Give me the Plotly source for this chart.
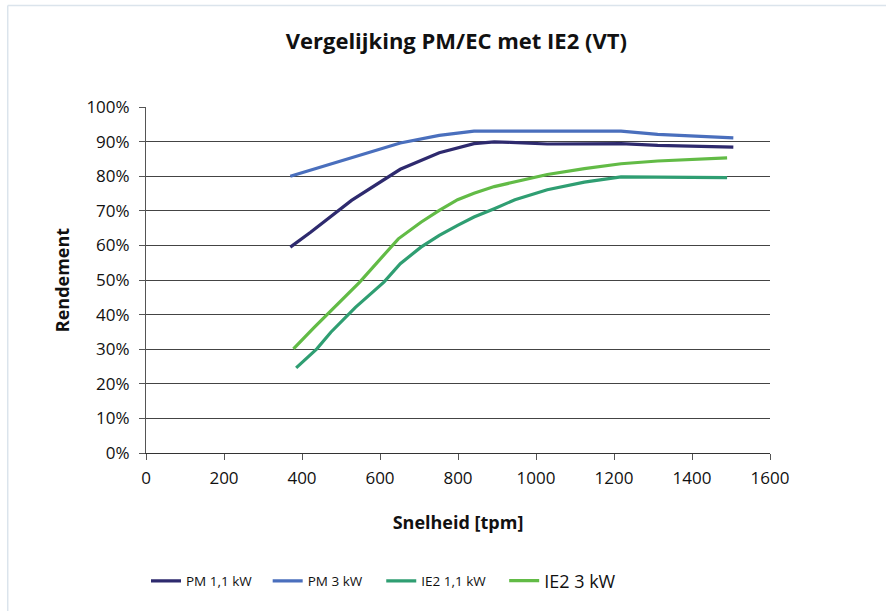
import plotly.graph_objects as go

# Rendement (%) versus snelheid (tpm) per motor
pm11_x = [370, 422, 527, 652, 752, 841, 893, 935, 1029, 1124, 1218, 1312, 1506]
pm11_y = [59.5, 63.8, 73.0, 82.0, 86.8, 89.4, 89.9, 89.8, 89.3, 89.4, 89.4, 88.9, 88.4]

pm3_x = [370, 652, 752, 841, 1124, 1218, 1312, 1506]
pm3_y = [80.0, 89.6, 91.8, 93.0, 93.0, 93.0, 92.1, 91.1]

ie2_11_x = [385, 438, 474, 537, 610, 652, 705, 752, 799, 841, 893, 946, 1029, 1124, 1218, 1490]
ie2_11_y = [24.6, 30.1, 34.9, 42.1, 49.4, 54.7, 59.5, 62.9, 65.8, 68.2, 70.6, 73.2, 76.1, 78.3, 79.8, 79.6]

ie2_3_x = [378, 432, 548, 647, 705, 752, 799, 841, 893, 988, 1029, 1124, 1218, 1312, 1490]
ie2_3_y = [30.1, 36.4, 49.4, 61.9, 66.7, 70.1, 73.2, 75.1, 77.0, 79.6, 80.5, 82.2, 83.6, 84.4, 85.3]

y_ticks = [0, 10, 20, 30, 40, 50, 60, 70, 80, 90, 100]
y_tick_labels = [f"{v}%" for v in y_ticks]
x_ticks = [0, 200, 400, 600, 800, 1000, 1200, 1400, 1600]

# name, x, y, colour, legend id, legend left (paper fraction), label size
series = [
    ("PM 1,1 kW", pm11_x, pm11_y, "#2e2a6e", "legend", 0.0, 13.5),
    ("PM 3 kW", pm3_x, pm3_y, "#4a6fbd", "legend2", 0.195, 13.5),
    ("IE2 1,1 kW", ie2_11_x, ie2_11_y, "#2f9e72", "legend3", 0.377, 13.5),
    ("IE2 3 kW", ie2_3_x, ie2_3_y, "#62bb46", "legend4", 0.574, 18),
]

font_main = "Open Sans, DejaVu Sans, sans-serif"

fig = go.Figure()
legends = {}
for name, xs, ys, col, lg, lx, fs in series:
    fig.add_trace(go.Scatter(
        x=xs, y=ys, name=name, mode="lines", legend=lg,
        line=dict(color=col, width=3.2),
    ))
    legends[lg] = dict(
        orientation="h", x=lx, xanchor="left", y=-0.37, yanchor="middle",
        font=dict(size=fs, color="#111111", family=font_main),
        bgcolor="rgba(0,0,0,0)",
    )

fig.update_layout(
    width=886, height=611,
    margin=dict(l=146, r=116, t=107, b=158),
    paper_bgcolor="white", plot_bgcolor="white",
    font=dict(family=font_main, color="#111111"),
    showlegend=True,
    title=dict(
        text="<b>Vergelijking PM/EC met IE2 (VT)</b>",
        x=0.515, xanchor="center", y=0.932, yanchor="middle",
        font=dict(size=22, color="#111111", family=font_main),
    ),
    xaxis=dict(
        range=[0, 1600], tickvals=x_ticks, ticktext=[str(v) for v in x_ticks],
        showgrid=False, zeroline=False,
        showline=True, linecolor="#333333", linewidth=1,
        ticks="outside", ticklen=6, tickcolor="#555555",
        tickfont=dict(size=17), ticklabelstandoff=4,
        title=dict(text="<b>Snelheid [tpm]</b>", font=dict(size=18), standoff=27),
    ),
    yaxis=dict(
        range=[0, 100], tickvals=y_ticks, ticktext=y_tick_labels,
        showgrid=True, gridcolor="#444444", gridwidth=1,
        zeroline=False,
        showline=True, linecolor="#555555", linewidth=1,
        ticks="outside", ticklen=6, tickcolor="#555555",
        tickfont=dict(size=17), ticklabelstandoff=6,
        title=dict(text="<b>Rendement</b>", font=dict(size=18), standoff=12),
    ),
    shapes=[
        dict(type="line", xref="paper", yref="paper", x0=-0.2216, x1=1.19,
             y0=1.293, y1=1.293, line=dict(color="#dbe4ec", width=1.5)),
        dict(type="line", xref="paper", yref="paper", x0=-0.2216, x1=-0.2216,
             y0=-0.5, y1=1.293, line=dict(color="#dbe4ec", width=1.5)),
    ],
    **legends,
)

fig.write_html("out.html")
